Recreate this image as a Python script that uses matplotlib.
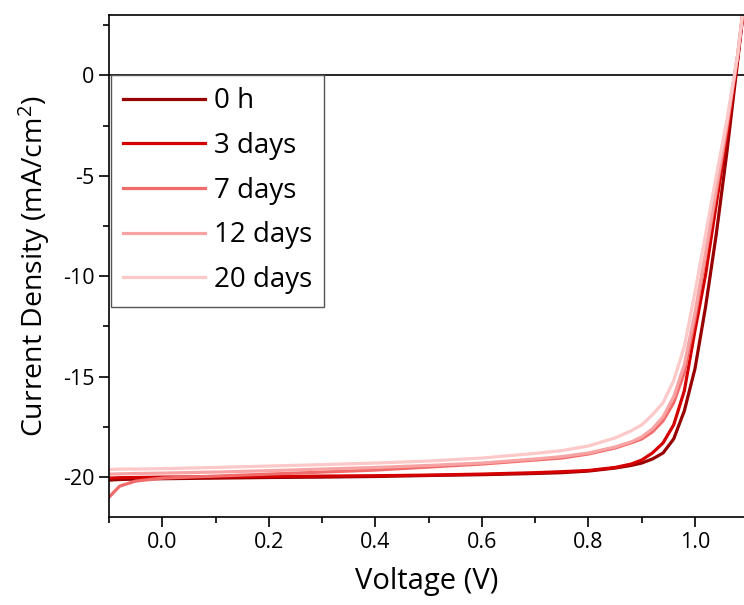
import matplotlib
import numpy as np

matplotlib.use('Agg')
import matplotlib.pyplot as plt
from matplotlib.ticker import FormatStrFormatter, MultipleLocator

plt.rcParams['font.family'] = ['Open Sans', 'DejaVu Sans']
plt.rcParams['mathtext.fontset'] = 'custom'
plt.rcParams['mathtext.rm'] = 'Open Sans'
plt.rcParams['mathtext.default'] = 'regular'
plt.rcParams['axes.unicode_minus'] = False

# J-V sweeps, voltage in V, current density in mA/cm^2
voltage = [-0.10, -0.08, -0.05, 0.00, 0.10, 0.20, 0.30, 0.40, 0.50, 0.60, 0.70,
           0.75, 0.80, 0.85, 0.88, 0.90, 0.92, 0.94, 0.96, 0.98, 1.00, 1.02,
           1.04, 1.06, 1.08, 1.09]

j_0h = [-20.15, -20.12, -20.10, -20.08, -20.05, -20.02, -20.00, -19.97, -19.92,
        -19.88, -19.82, -19.78, -19.70, -19.55, -19.42, -19.30, -19.10, -18.80,
        -18.10, -16.70, -14.60, -11.50, -7.90, -3.80, 0.70, 3.00]
j_3d = [-20.05, -20.03, -20.02, -20.00, -19.98, -19.97, -19.95, -19.93, -19.90,
        -19.85, -19.78, -19.73, -19.67, -19.52, -19.35, -19.15, -18.80, -18.30,
        -17.40, -15.70, -12.70, -9.90, -6.40, -3.00, 0.80, 3.10]
j_7d = [-21.00, -20.45, -20.20, -20.05, -19.95, -19.85, -19.75, -19.65, -19.50,
        -19.35, -19.15, -19.05, -18.85, -18.55, -18.30, -18.10, -17.75, -17.20,
        -16.30, -14.80, -12.10, -9.00, -5.80, -2.60, 1.00, 3.20]
j_12d = [-19.85, -19.84, -19.82, -19.80, -19.75, -19.68, -19.60, -19.52, -19.42,
         -19.30, -19.10, -18.98, -18.80, -18.50, -18.25, -18.00, -17.60, -17.00,
         -16.00, -14.40, -11.80, -8.80, -5.60, -2.40, 1.00, 3.20]
j_20d = [-19.62, -19.60, -19.60, -19.58, -19.52, -19.45, -19.38, -19.30, -19.20,
         -19.05, -18.82, -18.68, -18.45, -18.05, -17.70, -17.40, -16.90, -16.30,
         -15.20, -13.50, -10.80, -7.90, -5.00, -2.20, 1.00, 3.20]

labels = ['0 h', '3 days', '7 days', '12 days', '20 days']
colors = ['#990000', '#d40000', '#f26b6b', '#f8a3a3', '#fdc8c8']

figure = plt.figure(figsize=(7.44, 6.05), dpi=100)
axis = figure.add_axes([0.1465, 0.145, 0.8535, 0.830])

for current, label, color in zip([j_0h, j_3d, j_7d, j_12d, j_20d], labels, colors):
    axis.plot(voltage, current, color=color, linewidth=2.3, label=label)

axis.axhline(0, color='black', linewidth=1.2, zorder=0)

axis.set_xlim(-0.1, 1.092)
axis.set_ylim(-22, 3)
axis.xaxis.set_major_locator(MultipleLocator(0.2))
axis.xaxis.set_minor_locator(MultipleLocator(0.1))
axis.yaxis.set_major_locator(MultipleLocator(5))
axis.yaxis.set_minor_locator(MultipleLocator(2.5))
axis.xaxis.set_major_formatter(FormatStrFormatter('%.1f'))
axis.tick_params(which='major', direction='out', length=7, width=1.2, labelsize=15.5)
axis.tick_params(which='minor', direction='out', length=4, width=1.2)
axis.tick_params(top=False, right=False)
axis.spines['right'].set_visible(False)
for side in ('left', 'bottom', 'top'):
    axis.spines[side].set_linewidth(1.2)

axis.set_xlabel('Voltage (V)', fontsize=21, labelpad=10)
axis.set_ylabel('Current Density (mA/cm$^{2}$)', fontsize=20.5, labelpad=8)

legend = axis.legend(loc='upper left', bbox_to_anchor=(0.003, 0.881), borderaxespad=0,
                     fontsize=20, handlelength=2.95, handletextpad=0.3,
                     labelspacing=0.6, fancybox=False, framealpha=1,
                     borderpad=0.45)
legend.get_frame().set_edgecolor('#555555')
legend.get_frame().set_linewidth(1.0)

figure.savefig('out.png', dpi=100)
plt.close(figure)
